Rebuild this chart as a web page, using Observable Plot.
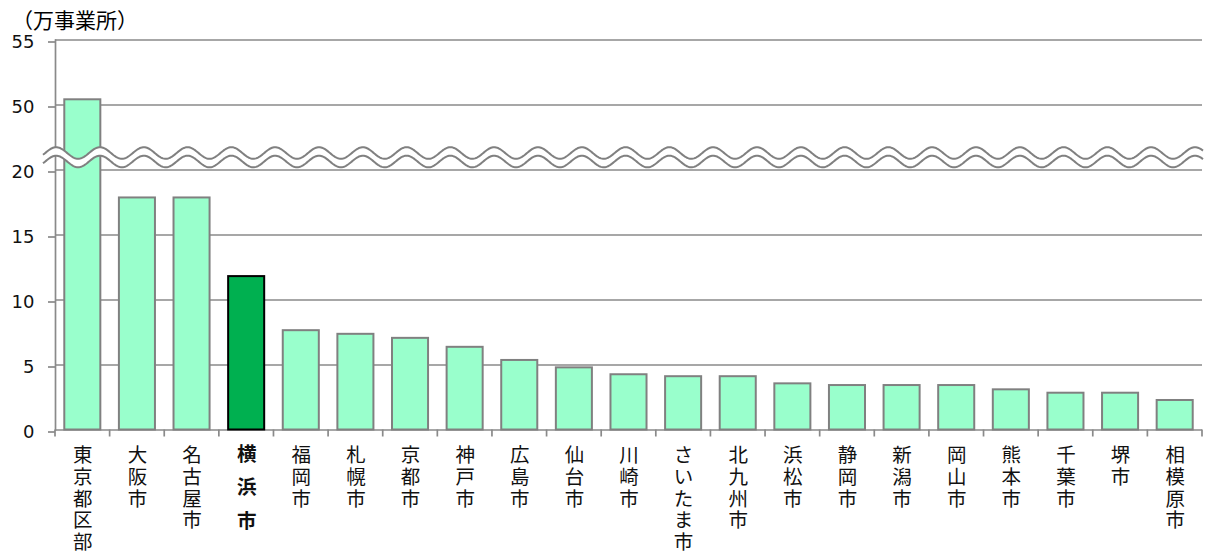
<!DOCTYPE html>
<html><head><meta charset="utf-8">
<script src="https://cdn.jsdelivr.net/npm/d3@7"></script>
<script src="https://cdn.jsdelivr.net/npm/@observablehq/plot@0.6"></script>
<style>
body{margin:0;background:#fff;}
#wrap{position:relative;width:1206px;height:557px;}
#unit{position:absolute;left:12px;top:5px;font-family:"Noto Sans CJK JP";font-size:21px;line-height:28px;color:#000;white-space:nowrap;z-index:2;}
#wrap svg{position:absolute;left:0;top:0;}
</style></head><body>
<div id="wrap"><div id="unit">（万事業所）</div></div>
<script>
const cities = ["東京都区部","大阪市","名古屋市","横浜市","福岡市","札幌市","京都市","神戸市","広島市","仙台市","川崎市","さいたま市","北九州市","浜松市","静岡市","新潟市","岡山市","熊本市","千葉市","堺市","相模原市"];
const values = [50.4,17.85,17.85,11.8,7.64,7.36,7.05,6.36,5.35,4.78,4.25,4.1,4.1,3.55,3.42,3.42,3.42,3.09,2.83,2.83,2.27];
const highlight = "横浜市";
const yTicks = [0,5,10,15,20,50,55];
const breakLow = 20, breakHigh = 45; // values between are cut out of the axis

const data = cities.map((c,i)=>({city:c, value:values[i]}));
const grid = "#8a8a8a";
const cjk = "'Noto Sans CJK JP', sans-serif";
// broken-axis scale transform (values above the break are shifted down)
const brk = v => v <= breakLow ? v : v - (breakHigh - breakLow);

const plot = Plot.plot({
  width:1206, height:557,
  marginLeft:55, marginRight:4, marginTop:39.5, marginBottom:127.5,
  style:{background:"transparent"},
  x:{domain:cities, paddingInner:0.34, paddingOuter:0.17, round:false, axis:null},
  y:{transform:brk, domain:[0, brk(55)], axis:null},
  marks:[
    Plot.ruleY(yTicks, {y:d=>d, stroke:grid, strokeWidth:1.7}),
    Plot.axisY(yTicks, {tickSize:7, tickPadding:14, fontSize:18, fontFamily:"DejaVu Sans", stroke:grid, strokeWidth:1.7, fill:"#111", dy:2, tickFormat:d=>String(d), label:null}),
    Plot.frame({anchor:"left", stroke:grid, strokeWidth:1.7}),
    Plot.barY(data.filter(d=>d.city!==highlight), {x:"city", y:"value", fill:"#99FFCC", stroke:"#808080", strokeWidth:2}),
    Plot.barY(data.filter(d=>d.city===highlight), {x:"city", y:"value", fill:"#00B050", stroke:"#000", strokeWidth:2}),
    Plot.text(cities.filter(c=>c!==highlight), {x:d=>d, text:d=>[...d].join("\n"), frameAnchor:"bottom", lineAnchor:"top", dy:17, fontSize:19.5, lineHeight:1.11, fontFamily:cjk, fill:"#111"}),
    Plot.text(cities.filter(c=>c===highlight), {x:d=>d, text:d=>[...d].join("\n"), frameAnchor:"bottom", lineAnchor:"top", dy:7, fontSize:19.5, lineHeight:1.72, fontWeight:"bold", fontFamily:cjk, fill:"#111"})
  ]
});
document.getElementById("wrap").prepend(plot);

const svg = d3.select(plot);
const xs = plot.scale("x"), ys = plot.scale("y");
const y0 = ys.apply(0), y20 = ys.apply(breakLow);
// category boundary ticks
const half = (xs.step - xs.bandwidth)/2;
const bounds = cities.map(c => xs.apply(c) - half).concat([xs.apply(cities[cities.length-1]) + xs.bandwidth + half]);
svg.append("g").selectAll("line").data(bounds).join("line")
  .attr("x1",d=>d).attr("x2",d=>d).attr("y1",y0).attr("y2",y0+7)
  .attr("stroke",grid).attr("stroke-width",1.7);
// axis break
const A = 5.8, P = 43.8, X0 = 100, xa = 43, xb = 1203;
const upper = [], lower = [];
for (let x = xa; x <= xb; x += 1) {
  const c = Math.cos(2*Math.PI*(x - X0)/P);
  upper.push([x, y20 - 16.5 - A*c]);
  lower.push([x, y20 - 8 - A*c]);
}
const line = d3.line();
svg.append("path").attr("d", line(upper.concat(lower.slice().reverse())) + "Z").attr("fill","#fff").attr("stroke","none");
svg.append("path").attr("d", line(upper)).attr("fill","none").attr("stroke","#808080").attr("stroke-width",2);
svg.append("path").attr("d", line(lower)).attr("fill","none").attr("stroke","#808080").attr("stroke-width",2);
</script>
</body></html>
